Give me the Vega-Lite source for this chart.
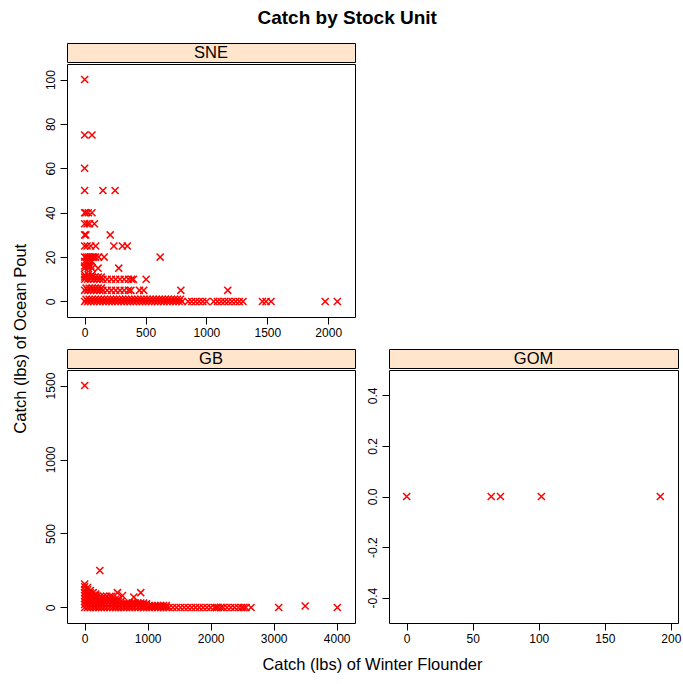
{
  "$schema": "https://vega.github.io/schema/vega-lite/v6.json",
  "autosize": {"type": "pad"},
  "padding": {"left": 12, "top": 8, "right": 5, "bottom": 5},
  "background": "white",
  "title": {"text": "Catch by Stock Unit", "font": "Liberation Sans", "fontSize": 19, "fontWeight": "bold", "color": "black", "anchor": "middle", "offset": 15},
  "datasets": {
    "catch": [
      {"unit": "SNE", "flounder": 0, "pout": 100},
      {"unit": "SNE", "flounder": 0, "pout": 75}, {"unit": "SNE", "flounder": 60, "pout": 75},
      {"unit": "SNE", "flounder": 0, "pout": 60},
      {"unit": "SNE", "flounder": 0, "pout": 50}, {"unit": "SNE", "flounder": 150, "pout": 50}, {"unit": "SNE", "flounder": 250, "pout": 50},
      {"unit": "SNE", "flounder": 0, "pout": 40}, {"unit": "SNE", "flounder": 10, "pout": 40}, {"unit": "SNE", "flounder": 30, "pout": 40}, {"unit": "SNE", "flounder": 60, "pout": 40},
      {"unit": "SNE", "flounder": 0, "pout": 35}, {"unit": "SNE", "flounder": 20, "pout": 35}, {"unit": "SNE", "flounder": 40, "pout": 35}, {"unit": "SNE", "flounder": 80, "pout": 35},
      {"unit": "SNE", "flounder": 0, "pout": 30}, {"unit": "SNE", "flounder": 10, "pout": 30}, {"unit": "SNE", "flounder": 210, "pout": 30},
      {"unit": "SNE", "flounder": 0, "pout": 25}, {"unit": "SNE", "flounder": 20, "pout": 25}, {"unit": "SNE", "flounder": 50, "pout": 25}, {"unit": "SNE", "flounder": 90, "pout": 25}, {"unit": "SNE", "flounder": 240, "pout": 25}, {"unit": "SNE", "flounder": 310, "pout": 25}, {"unit": "SNE", "flounder": 350, "pout": 25},
      {"unit": "SNE", "flounder": 0, "pout": 20}, {"unit": "SNE", "flounder": 15, "pout": 20}, {"unit": "SNE", "flounder": 30, "pout": 20}, {"unit": "SNE", "flounder": 45, "pout": 20}, {"unit": "SNE", "flounder": 60, "pout": 20}, {"unit": "SNE", "flounder": 75, "pout": 20}, {"unit": "SNE", "flounder": 90, "pout": 20}, {"unit": "SNE", "flounder": 115, "pout": 20}, {"unit": "SNE", "flounder": 160, "pout": 20}, {"unit": "SNE", "flounder": 620, "pout": 20},
      {"unit": "SNE", "flounder": 0, "pout": 18}, {"unit": "SNE", "flounder": 20, "pout": 18}, {"unit": "SNE", "flounder": 40, "pout": 18}, {"unit": "SNE", "flounder": 60, "pout": 18},
      {"unit": "SNE", "flounder": 0, "pout": 16}, {"unit": "SNE", "flounder": 25, "pout": 16}, {"unit": "SNE", "flounder": 50, "pout": 16},
      {"unit": "SNE", "flounder": 0, "pout": 15}, {"unit": "SNE", "flounder": 30, "pout": 15}, {"unit": "SNE", "flounder": 60, "pout": 15}, {"unit": "SNE", "flounder": 110, "pout": 15}, {"unit": "SNE", "flounder": 280, "pout": 15},
      {"unit": "SNE", "flounder": 0, "pout": 12}, {"unit": "SNE", "flounder": 30, "pout": 12}, {"unit": "SNE", "flounder": 60, "pout": 12},
      {"unit": "SNE", "flounder": 0, "pout": 11}, {"unit": "SNE", "flounder": 12, "pout": 11}, {"unit": "SNE", "flounder": 37, "pout": 11}, {"unit": "SNE", "flounder": 62, "pout": 11}, {"unit": "SNE", "flounder": 87, "pout": 11}, {"unit": "SNE", "flounder": 112, "pout": 11}, {"unit": "SNE", "flounder": 137, "pout": 11},
      {"unit": "SNE", "flounder": 0, "pout": 10}, {"unit": "SNE", "flounder": 25, "pout": 10}, {"unit": "SNE", "flounder": 50, "pout": 10}, {"unit": "SNE", "flounder": 75, "pout": 10}, {"unit": "SNE", "flounder": 100, "pout": 10}, {"unit": "SNE", "flounder": 125, "pout": 10}, {"unit": "SNE", "flounder": 150, "pout": 10}, {"unit": "SNE", "flounder": 185, "pout": 10}, {"unit": "SNE", "flounder": 220, "pout": 10}, {"unit": "SNE", "flounder": 255, "pout": 10}, {"unit": "SNE", "flounder": 290, "pout": 10}, {"unit": "SNE", "flounder": 325, "pout": 10}, {"unit": "SNE", "flounder": 360, "pout": 10}, {"unit": "SNE", "flounder": 385, "pout": 10}, {"unit": "SNE", "flounder": 400, "pout": 10}, {"unit": "SNE", "flounder": 505, "pout": 10},
      {"unit": "SNE", "flounder": 12, "pout": 6}, {"unit": "SNE", "flounder": 37, "pout": 6}, {"unit": "SNE", "flounder": 62, "pout": 6}, {"unit": "SNE", "flounder": 87, "pout": 6}, {"unit": "SNE", "flounder": 112, "pout": 6}, {"unit": "SNE", "flounder": 137, "pout": 6},
      {"unit": "SNE", "flounder": 0, "pout": 5}, {"unit": "SNE", "flounder": 25, "pout": 5}, {"unit": "SNE", "flounder": 50, "pout": 5}, {"unit": "SNE", "flounder": 75, "pout": 5}, {"unit": "SNE", "flounder": 100, "pout": 5}, {"unit": "SNE", "flounder": 125, "pout": 5}, {"unit": "SNE", "flounder": 150, "pout": 5}, {"unit": "SNE", "flounder": 185, "pout": 5}, {"unit": "SNE", "flounder": 220, "pout": 5}, {"unit": "SNE", "flounder": 255, "pout": 5}, {"unit": "SNE", "flounder": 290, "pout": 5}, {"unit": "SNE", "flounder": 325, "pout": 5}, {"unit": "SNE", "flounder": 360, "pout": 5}, {"unit": "SNE", "flounder": 380, "pout": 5}, {"unit": "SNE", "flounder": 450, "pout": 5}, {"unit": "SNE", "flounder": 485, "pout": 5}, {"unit": "SNE", "flounder": 790, "pout": 5}, {"unit": "SNE", "flounder": 1175, "pout": 5},
      {"unit": "SNE", "flounder": 12, "pout": 1}, {"unit": "SNE", "flounder": 37, "pout": 1}, {"unit": "SNE", "flounder": 62, "pout": 1}, {"unit": "SNE", "flounder": 87, "pout": 1}, {"unit": "SNE", "flounder": 112, "pout": 1}, {"unit": "SNE", "flounder": 137, "pout": 1}, {"unit": "SNE", "flounder": 162, "pout": 1}, {"unit": "SNE", "flounder": 187, "pout": 1}, {"unit": "SNE", "flounder": 212, "pout": 1}, {"unit": "SNE", "flounder": 237, "pout": 1}, {"unit": "SNE", "flounder": 262, "pout": 1}, {"unit": "SNE", "flounder": 287, "pout": 1}, {"unit": "SNE", "flounder": 312, "pout": 1}, {"unit": "SNE", "flounder": 337, "pout": 1}, {"unit": "SNE", "flounder": 362, "pout": 1}, {"unit": "SNE", "flounder": 387, "pout": 1}, {"unit": "SNE", "flounder": 412, "pout": 1}, {"unit": "SNE", "flounder": 437, "pout": 1}, {"unit": "SNE", "flounder": 462, "pout": 1}, {"unit": "SNE", "flounder": 487, "pout": 1}, {"unit": "SNE", "flounder": 512, "pout": 1}, {"unit": "SNE", "flounder": 537, "pout": 1}, {"unit": "SNE", "flounder": 562, "pout": 1}, {"unit": "SNE", "flounder": 587, "pout": 1}, {"unit": "SNE", "flounder": 612, "pout": 1}, {"unit": "SNE", "flounder": 637, "pout": 1}, {"unit": "SNE", "flounder": 662, "pout": 1}, {"unit": "SNE", "flounder": 687, "pout": 1}, {"unit": "SNE", "flounder": 712, "pout": 1}, {"unit": "SNE", "flounder": 737, "pout": 1}, {"unit": "SNE", "flounder": 762, "pout": 1}, {"unit": "SNE", "flounder": 787, "pout": 1},
      {"unit": "SNE", "flounder": 0, "pout": 0}, {"unit": "SNE", "flounder": 25, "pout": 0}, {"unit": "SNE", "flounder": 50, "pout": 0}, {"unit": "SNE", "flounder": 75, "pout": 0}, {"unit": "SNE", "flounder": 100, "pout": 0}, {"unit": "SNE", "flounder": 125, "pout": 0}, {"unit": "SNE", "flounder": 150, "pout": 0}, {"unit": "SNE", "flounder": 175, "pout": 0}, {"unit": "SNE", "flounder": 200, "pout": 0}, {"unit": "SNE", "flounder": 225, "pout": 0}, {"unit": "SNE", "flounder": 250, "pout": 0}, {"unit": "SNE", "flounder": 275, "pout": 0}, {"unit": "SNE", "flounder": 300, "pout": 0}, {"unit": "SNE", "flounder": 325, "pout": 0}, {"unit": "SNE", "flounder": 350, "pout": 0}, {"unit": "SNE", "flounder": 375, "pout": 0}, {"unit": "SNE", "flounder": 400, "pout": 0}, {"unit": "SNE", "flounder": 425, "pout": 0}, {"unit": "SNE", "flounder": 450, "pout": 0}, {"unit": "SNE", "flounder": 475, "pout": 0}, {"unit": "SNE", "flounder": 500, "pout": 0}, {"unit": "SNE", "flounder": 525, "pout": 0}, {"unit": "SNE", "flounder": 550, "pout": 0}, {"unit": "SNE", "flounder": 575, "pout": 0}, {"unit": "SNE", "flounder": 600, "pout": 0}, {"unit": "SNE", "flounder": 625, "pout": 0}, {"unit": "SNE", "flounder": 650, "pout": 0}, {"unit": "SNE", "flounder": 675, "pout": 0}, {"unit": "SNE", "flounder": 700, "pout": 0}, {"unit": "SNE", "flounder": 725, "pout": 0}, {"unit": "SNE", "flounder": 750, "pout": 0}, {"unit": "SNE", "flounder": 775, "pout": 0}, {"unit": "SNE", "flounder": 800, "pout": 0},
      {"unit": "SNE", "flounder": 850, "pout": 0}, {"unit": "SNE", "flounder": 880, "pout": 0}, {"unit": "SNE", "flounder": 910, "pout": 0}, {"unit": "SNE", "flounder": 940, "pout": 0}, {"unit": "SNE", "flounder": 970, "pout": 0}, {"unit": "SNE", "flounder": 1000, "pout": 0}, {"unit": "SNE", "flounder": 1060, "pout": 0}, {"unit": "SNE", "flounder": 1090, "pout": 0}, {"unit": "SNE", "flounder": 1120, "pout": 0}, {"unit": "SNE", "flounder": 1150, "pout": 0}, {"unit": "SNE", "flounder": 1180, "pout": 0}, {"unit": "SNE", "flounder": 1210, "pout": 0}, {"unit": "SNE", "flounder": 1240, "pout": 0}, {"unit": "SNE", "flounder": 1270, "pout": 0}, {"unit": "SNE", "flounder": 1300, "pout": 0}, {"unit": "SNE", "flounder": 1460, "pout": 0}, {"unit": "SNE", "flounder": 1490, "pout": 0}, {"unit": "SNE", "flounder": 1530, "pout": 0}, {"unit": "SNE", "flounder": 1975, "pout": 0}, {"unit": "SNE", "flounder": 2075, "pout": 0},

      {"unit": "GB", "flounder": 0, "pout": 1500}, {"unit": "GB", "flounder": 240, "pout": 250}, {"unit": "GB", "flounder": 520, "pout": 100}, {"unit": "GB", "flounder": 600, "pout": 80}, {"unit": "GB", "flounder": 780, "pout": 70}, {"unit": "GB", "flounder": 890, "pout": 100},
      {"unit": "GB", "flounder": 0, "pout": 0}, {"unit": "GB", "flounder": 0, "pout": 20}, {"unit": "GB", "flounder": 0, "pout": 40}, {"unit": "GB", "flounder": 0, "pout": 60}, {"unit": "GB", "flounder": 0, "pout": 80}, {"unit": "GB", "flounder": 0, "pout": 100}, {"unit": "GB", "flounder": 0, "pout": 120}, {"unit": "GB", "flounder": 0, "pout": 140}, {"unit": "GB", "flounder": 0, "pout": 158},
      {"unit": "GB", "flounder": 45, "pout": 0}, {"unit": "GB", "flounder": 45, "pout": 20}, {"unit": "GB", "flounder": 45, "pout": 40}, {"unit": "GB", "flounder": 45, "pout": 60}, {"unit": "GB", "flounder": 45, "pout": 80}, {"unit": "GB", "flounder": 45, "pout": 100}, {"unit": "GB", "flounder": 45, "pout": 120}, {"unit": "GB", "flounder": 45, "pout": 135},
      {"unit": "GB", "flounder": 90, "pout": 0}, {"unit": "GB", "flounder": 90, "pout": 20}, {"unit": "GB", "flounder": 90, "pout": 40}, {"unit": "GB", "flounder": 90, "pout": 60}, {"unit": "GB", "flounder": 90, "pout": 80}, {"unit": "GB", "flounder": 90, "pout": 100}, {"unit": "GB", "flounder": 90, "pout": 115},
      {"unit": "GB", "flounder": 135, "pout": 0}, {"unit": "GB", "flounder": 135, "pout": 20}, {"unit": "GB", "flounder": 135, "pout": 40}, {"unit": "GB", "flounder": 135, "pout": 60}, {"unit": "GB", "flounder": 135, "pout": 80}, {"unit": "GB", "flounder": 135, "pout": 100},
      {"unit": "GB", "flounder": 175, "pout": 0}, {"unit": "GB", "flounder": 175, "pout": 20}, {"unit": "GB", "flounder": 175, "pout": 40}, {"unit": "GB", "flounder": 175, "pout": 60}, {"unit": "GB", "flounder": 175, "pout": 80}, {"unit": "GB", "flounder": 175, "pout": 90},
      {"unit": "GB", "flounder": 220, "pout": 0}, {"unit": "GB", "flounder": 220, "pout": 20}, {"unit": "GB", "flounder": 220, "pout": 40}, {"unit": "GB", "flounder": 220, "pout": 55},
      {"unit": "GB", "flounder": 265, "pout": 0}, {"unit": "GB", "flounder": 265, "pout": 20}, {"unit": "GB", "flounder": 265, "pout": 40}, {"unit": "GB", "flounder": 265, "pout": 55},
      {"unit": "GB", "flounder": 310, "pout": 0}, {"unit": "GB", "flounder": 310, "pout": 20}, {"unit": "GB", "flounder": 310, "pout": 40}, {"unit": "GB", "flounder": 310, "pout": 55},
      {"unit": "GB", "flounder": 355, "pout": 0}, {"unit": "GB", "flounder": 355, "pout": 20}, {"unit": "GB", "flounder": 355, "pout": 40}, {"unit": "GB", "flounder": 355, "pout": 55},
      {"unit": "GB", "flounder": 400, "pout": 0}, {"unit": "GB", "flounder": 400, "pout": 20}, {"unit": "GB", "flounder": 400, "pout": 40}, {"unit": "GB", "flounder": 400, "pout": 55},
      {"unit": "GB", "flounder": 445, "pout": 0}, {"unit": "GB", "flounder": 445, "pout": 20}, {"unit": "GB", "flounder": 445, "pout": 40}, {"unit": "GB", "flounder": 445, "pout": 55},
      {"unit": "GB", "flounder": 490, "pout": 0}, {"unit": "GB", "flounder": 490, "pout": 20}, {"unit": "GB", "flounder": 490, "pout": 40}, {"unit": "GB", "flounder": 490, "pout": 55},
      {"unit": "GB", "flounder": 535, "pout": 0}, {"unit": "GB", "flounder": 535, "pout": 20}, {"unit": "GB", "flounder": 535, "pout": 40}, {"unit": "GB", "flounder": 535, "pout": 55},
      {"unit": "GB", "flounder": 575, "pout": 0}, {"unit": "GB", "flounder": 575, "pout": 20}, {"unit": "GB", "flounder": 575, "pout": 40},
      {"unit": "GB", "flounder": 200, "pout": 75}, {"unit": "GB", "flounder": 250, "pout": 75}, {"unit": "GB", "flounder": 300, "pout": 75}, {"unit": "GB", "flounder": 350, "pout": 75}, {"unit": "GB", "flounder": 400, "pout": 75}, {"unit": "GB", "flounder": 430, "pout": 75},
      {"unit": "GB", "flounder": 620, "pout": 0}, {"unit": "GB", "flounder": 620, "pout": 18}, {"unit": "GB", "flounder": 620, "pout": 30},
      {"unit": "GB", "flounder": 665, "pout": 0}, {"unit": "GB", "flounder": 665, "pout": 18}, {"unit": "GB", "flounder": 665, "pout": 30},
      {"unit": "GB", "flounder": 710, "pout": 0}, {"unit": "GB", "flounder": 710, "pout": 18}, {"unit": "GB", "flounder": 710, "pout": 30},
      {"unit": "GB", "flounder": 755, "pout": 0}, {"unit": "GB", "flounder": 755, "pout": 18}, {"unit": "GB", "flounder": 755, "pout": 30},
      {"unit": "GB", "flounder": 800, "pout": 0}, {"unit": "GB", "flounder": 800, "pout": 18}, {"unit": "GB", "flounder": 800, "pout": 30},
      {"unit": "GB", "flounder": 845, "pout": 0}, {"unit": "GB", "flounder": 845, "pout": 18}, {"unit": "GB", "flounder": 845, "pout": 30},
      {"unit": "GB", "flounder": 890, "pout": 0}, {"unit": "GB", "flounder": 890, "pout": 18}, {"unit": "GB", "flounder": 890, "pout": 30},
      {"unit": "GB", "flounder": 935, "pout": 0}, {"unit": "GB", "flounder": 935, "pout": 18}, {"unit": "GB", "flounder": 935, "pout": 30},
      {"unit": "GB", "flounder": 980, "pout": 0}, {"unit": "GB", "flounder": 980, "pout": 18}, {"unit": "GB", "flounder": 980, "pout": 25},
      {"unit": "GB", "flounder": 1025, "pout": 0}, {"unit": "GB", "flounder": 1025, "pout": 12}, {"unit": "GB", "flounder": 1070, "pout": 0}, {"unit": "GB", "flounder": 1070, "pout": 12}, {"unit": "GB", "flounder": 1115, "pout": 0}, {"unit": "GB", "flounder": 1115, "pout": 12}, {"unit": "GB", "flounder": 1160, "pout": 0}, {"unit": "GB", "flounder": 1160, "pout": 12}, {"unit": "GB", "flounder": 1205, "pout": 0}, {"unit": "GB", "flounder": 1205, "pout": 12}, {"unit": "GB", "flounder": 1250, "pout": 0}, {"unit": "GB", "flounder": 1250, "pout": 12}, {"unit": "GB", "flounder": 1295, "pout": 0}, {"unit": "GB", "flounder": 1295, "pout": 12},
      {"unit": "GB", "flounder": 1340, "pout": 0}, {"unit": "GB", "flounder": 1400, "pout": 0}, {"unit": "GB", "flounder": 1460, "pout": 0}, {"unit": "GB", "flounder": 1520, "pout": 0}, {"unit": "GB", "flounder": 1580, "pout": 0}, {"unit": "GB", "flounder": 1640, "pout": 0}, {"unit": "GB", "flounder": 1700, "pout": 0}, {"unit": "GB", "flounder": 1760, "pout": 0}, {"unit": "GB", "flounder": 1820, "pout": 0}, {"unit": "GB", "flounder": 1880, "pout": 0}, {"unit": "GB", "flounder": 1940, "pout": 0}, {"unit": "GB", "flounder": 2000, "pout": 0}, {"unit": "GB", "flounder": 2060, "pout": 0}, {"unit": "GB", "flounder": 2090, "pout": 0}, {"unit": "GB", "flounder": 2120, "pout": 0}, {"unit": "GB", "flounder": 2160, "pout": 0}, {"unit": "GB", "flounder": 2200, "pout": 0}, {"unit": "GB", "flounder": 2260, "pout": 0}, {"unit": "GB", "flounder": 2320, "pout": 0}, {"unit": "GB", "flounder": 2380, "pout": 0}, {"unit": "GB", "flounder": 2440, "pout": 0}, {"unit": "GB", "flounder": 2490, "pout": 0}, {"unit": "GB", "flounder": 2520, "pout": 0}, {"unit": "GB", "flounder": 2560, "pout": 0}, {"unit": "GB", "flounder": 2640, "pout": 0}, {"unit": "GB", "flounder": 3080, "pout": 0}, {"unit": "GB", "flounder": 3500, "pout": 10}, {"unit": "GB", "flounder": 4010, "pout": 0},

      {"unit": "GOM", "flounder": 0, "pout": 0}, {"unit": "GOM", "flounder": 64, "pout": 0}, {"unit": "GOM", "flounder": 71, "pout": 0}, {"unit": "GOM", "flounder": 102, "pout": 0}, {"unit": "GOM", "flounder": 192, "pout": 0}
    ]
  },
  "vconcat": [
    {
      "title": {"text": "Catch (lbs) of Ocean Pout", "orient": "left", "anchor": "middle", "font": "Liberation Sans", "fontSize": 16.5, "fontWeight": "normal", "color": "black", "offset": 14, "dx": 19},
      "spacing": 9,
      "vconcat": [
        {
          "spacing": 0,
          "vconcat": [
            {
              "width": 288, "height": 19,
              "data": {"values": [{"unit": "SNE"}]},
              "view": {"fill": "#ffe5cc", "stroke": "black"},
              "mark": {"type": "text", "font": "Liberation Sans", "fontSize": 16.5, "color": "black", "align": "center", "baseline": "middle"},
              "encoding": {"text": {"field": "unit"}}
            },
            {
              "width": 288, "height": 253,
              "data": {"name": "catch"},
              "transform": [{"filter": "datum.unit === 'SNE'"}],
              "mark": {"type": "point", "shape": "M-1,-1L1,1M-1,1L1,-1", "filled": false, "color": "#ff0000", "size": 50, "strokeWidth": 1.5, "opacity": 1},
              "encoding": {
                "x": {"field": "flounder", "type": "quantitative", "scale": {"domain": [-145, 2220], "nice": false, "zero": false}, "axis": {"values": [0, 500, 1000, 1500, 2000], "format": "d", "title": null}},
                "y": {"field": "pout", "type": "quantitative", "scale": {"domain": [-7, 107], "nice": false, "zero": false}, "axis": {"values": [0, 20, 40, 60, 80, 100], "format": "d", "title": null, "labelAngle": -90, "labelAlign": "center", "labelBaseline": "bottom"}}
              }
            }
          ]
        },
        {
          "title": {"text": "Catch (lbs) of Winter Flounder", "orient": "bottom", "anchor": "middle", "font": "Liberation Sans", "fontSize": 16.5, "fontWeight": "normal", "color": "black", "offset": 12, "dx": 10},
          "spacing": 9,
          "hconcat": [
            {
              "spacing": 0,
              "vconcat": [
                {
                  "width": 288, "height": 19,
                  "data": {"values": [{"unit": "GB"}]},
                  "view": {"fill": "#ffe5cc", "stroke": "black"},
                  "mark": {"type": "text", "font": "Liberation Sans", "fontSize": 16.5, "color": "black", "align": "center", "baseline": "middle"},
                  "encoding": {"text": {"field": "unit"}}
                },
                {
                  "width": 288, "height": 253,
                  "data": {"name": "catch"},
                  "transform": [{"filter": "datum.unit === 'GB'"}],
                  "mark": {"type": "point", "shape": "M-1,-1L1,1M-1,1L1,-1", "filled": false, "color": "#ff0000", "size": 50, "strokeWidth": 1.5, "opacity": 1},
                  "encoding": {
                    "x": {"field": "flounder", "type": "quantitative", "scale": {"domain": [-281, 4291], "nice": false, "zero": false}, "axis": {"values": [0, 1000, 2000, 3000, 4000], "format": "d", "title": null}},
                    "y": {"field": "pout", "type": "quantitative", "scale": {"domain": [-105, 1605], "nice": false, "zero": false}, "axis": {"values": [0, 500, 1000, 1500], "format": "d", "title": null, "labelAngle": -90, "labelAlign": "center", "labelBaseline": "bottom"}}
                  }
                }
              ]
            },
            {
              "spacing": 0,
              "vconcat": [
                {
                  "width": 289, "height": 19,
                  "data": {"values": [{"unit": "GOM"}]},
                  "view": {"fill": "#ffe5cc", "stroke": "black"},
                  "mark": {"type": "text", "font": "Liberation Sans", "fontSize": 16.5, "color": "black", "align": "center", "baseline": "middle"},
                  "encoding": {"text": {"field": "unit"}}
                },
                {
                  "width": 289, "height": 253,
                  "data": {"name": "catch"},
                  "transform": [{"filter": "datum.unit === 'GOM'"}],
                  "mark": {"type": "point", "shape": "M-1,-1L1,1M-1,1L1,-1", "filled": false, "color": "#ff0000", "size": 50, "strokeWidth": 1.5, "opacity": 1},
                  "encoding": {
                    "x": {"field": "flounder", "type": "quantitative", "scale": {"domain": [-13.4, 205.4], "nice": false, "zero": false}, "axis": {"values": [0, 50, 100, 150, 200], "format": "d", "title": null}},
                    "y": {"field": "pout", "type": "quantitative", "scale": {"domain": [-0.5, 0.5], "nice": false, "zero": false}, "axis": {"values": [-0.4, -0.2, 0, 0.2, 0.4], "labelExpr": "replace(format(datum.value, '.1f'), '\u2212', '-')", "title": null, "labelAngle": -90, "labelAlign": "center", "labelBaseline": "bottom"}}
                  }
                }
              ]
            }
          ]
        }
      ]
    }
  ],
  "config": {
    "font": "Liberation Sans",
    "view": {"stroke": "black", "strokeWidth": 1},
    "axis": {
      "domain": false, "grid": false,
      "ticks": true, "tickColor": "black", "tickSize": 7, "tickWidth": 1,
      "labelFont": "Liberation Sans", "labelFontSize": 12, "labelColor": "black", "labelPadding": 3,
      "titleFont": "Liberation Sans", "titleFontSize": 16, "titleFontWeight": "normal", "titleColor": "black"
    }
  }
}
